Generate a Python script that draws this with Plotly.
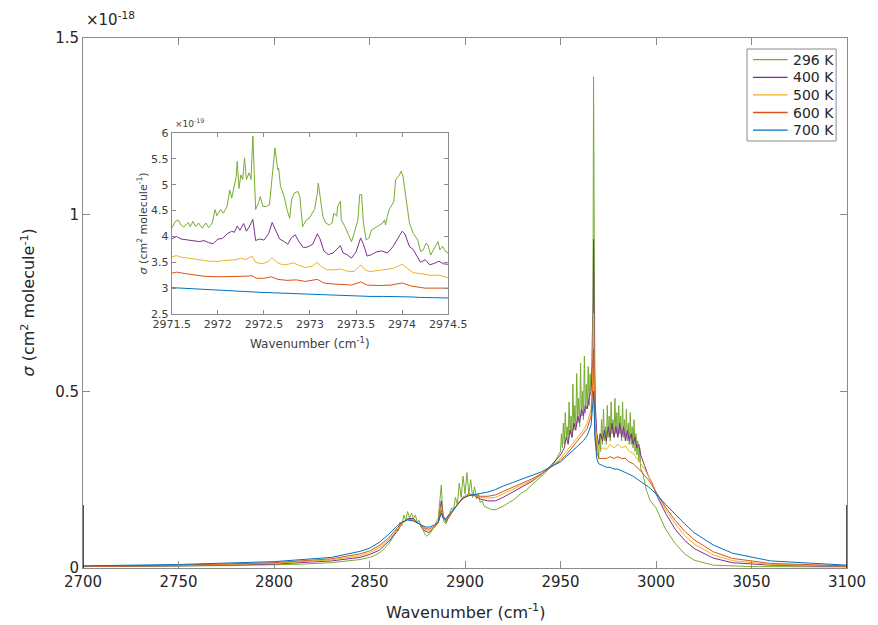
import plotly.graph_objects as go

# ---------------- main spectrum data (sigma in units of 1e-18 cm^2/molecule) ----------------
wn_296 = [2700, 2720, 2740, 2760, 2780, 2800, 2815, 2830, 2840, 2845, 2850, 2853, 2856, 2858, 2860, 2862, 2863,
          2864, 2865, 2866, 2867, 2868, 2869, 2870, 2871, 2872, 2873, 2874, 2875, 2876, 2877, 2878, 2879, 2880,
          2881, 2882, 2883, 2884, 2885, 2886, 2887, 2887.6, 2888.2, 2889, 2890, 2891, 2892, 2893, 2894, 2895,
          2896, 2897, 2898, 2899, 2900, 2901, 2902, 2903, 2904, 2905, 2906, 2907, 2908, 2909, 2910, 2912, 2914,
          2916, 2918, 2920, 2923, 2926, 2929, 2932, 2935, 2938, 2941, 2944, 2947, 2949,
          2950.0, 2950.5, 2951.0, 2951.5, 2952.0, 2952.5, 2953.0, 2953.5, 2954.0, 2954.5, 2955.0, 2955.5,
          2956.0, 2956.5, 2957.0, 2957.5, 2958.0, 2958.5, 2959.0, 2959.5, 2960.0, 2960.5, 2961.0, 2961.5,
          2962.0, 2962.5, 2963.0, 2963.5, 2964.0, 2964.5, 2965.0, 2965.5, 2966.0, 2966.5, 2967.0, 2967.3,
          2967.6, 2968.0, 2968.5, 2969.0, 2969.5, 2970.0,
          2970.5, 2971.0, 2971.5, 2972.0, 2972.5, 2973.0, 2973.5, 2974.0, 2974.5, 2975.0, 2975.5, 2976.0,
          2976.5, 2977.0, 2977.5, 2978.0, 2978.5, 2979.0, 2979.5, 2980.0, 2980.5, 2981.0, 2981.5, 2982.0,
          2982.5, 2983.0, 2983.5, 2984.0, 2984.5, 2985.0, 2985.5, 2986.0, 2986.5, 2987.0, 2987.5, 2988.0,
          2988.5, 2989.0, 2989.5, 2990.0, 2990.5, 2991.0, 2991.5, 2992.0, 2993.0, 2994.0, 2995.0, 2997.0,
          3000, 3005, 3010, 3015, 3020, 3030, 3050, 3100]
s_296 = [0.004, 0.004, 0.005, 0.006, 0.007, 0.009, 0.011, 0.015, 0.02, 0.024, 0.03, 0.036, 0.046, 0.056, 0.068, 0.085, 0.095,
         0.11, 0.105, 0.13, 0.12, 0.15, 0.135, 0.16, 0.14, 0.155, 0.14, 0.15, 0.13, 0.135, 0.115, 0.11, 0.095, 0.09,
         0.095, 0.10, 0.11, 0.115, 0.13, 0.14, 0.20, 0.235, 0.17, 0.13, 0.125, 0.14, 0.15, 0.17, 0.165, 0.20,
         0.18, 0.24, 0.20, 0.26, 0.21, 0.27, 0.21, 0.25, 0.20, 0.23, 0.195, 0.21, 0.185, 0.19, 0.175, 0.17, 0.165,
         0.165, 0.17, 0.175, 0.185, 0.195, 0.21, 0.22, 0.235, 0.25, 0.265, 0.28, 0.30, 0.32,
         0.33, 0.38, 0.34, 0.41, 0.35, 0.44, 0.37, 0.40, 0.36, 0.47, 0.38, 0.43,
         0.37, 0.52, 0.39, 0.46, 0.40, 0.55, 0.41, 0.48, 0.40, 0.58, 0.43, 0.50,
         0.42, 0.60, 0.44, 0.52, 0.45, 0.57, 0.46, 0.55, 0.50, 0.62, 0.75, 1.39,
         0.95, 0.55, 0.40, 0.33, 0.36, 0.31,
         0.38, 0.33, 0.42, 0.35, 0.45, 0.36, 0.40, 0.35, 0.46, 0.37, 0.43, 0.36,
         0.47, 0.38, 0.42, 0.37, 0.48, 0.38, 0.44, 0.37, 0.46, 0.38, 0.43, 0.36,
         0.47, 0.37, 0.42, 0.36, 0.45, 0.36, 0.41, 0.35, 0.44, 0.35, 0.40, 0.34,
         0.42, 0.33, 0.38, 0.32, 0.36, 0.30, 0.34, 0.28, 0.27, 0.24, 0.22, 0.19,
         0.17, 0.11, 0.07, 0.04, 0.022, 0.008, 0.004, 0.003]

wn_400 = [2700, 2750, 2800, 2830, 2845, 2850, 2855, 2860, 2864, 2867, 2870, 2873, 2876, 2879, 2881, 2884, 2886,
          2887.6, 2888.5, 2890, 2893, 2896, 2899, 2902, 2905, 2908, 2912, 2916, 2920, 2925, 2930, 2935, 2940,
          2945, 2950, 2952, 2953, 2954, 2955, 2956, 2957, 2958, 2959, 2960, 2961, 2962, 2963, 2964, 2965, 2966,
          2967, 2967.3, 2967.6, 2968, 2969, 2970, 2971, 2972, 2973, 2974, 2975, 2976, 2977, 2978, 2979, 2980,
          2981, 2982, 2983, 2984, 2985, 2986, 2987, 2988, 2989, 2990, 2991, 2992, 2994, 2996, 2998, 3000, 3005,
          3010, 3015, 3020, 3030, 3040, 3060, 3100]
s_400 = [0.004, 0.006, 0.011, 0.02, 0.03, 0.038, 0.05, 0.075, 0.10, 0.125, 0.14, 0.14, 0.125, 0.105, 0.10, 0.115, 0.13,
         0.19, 0.15, 0.13, 0.155, 0.18, 0.20, 0.21, 0.205, 0.195, 0.19, 0.19, 0.20, 0.215, 0.23, 0.245, 0.265,
         0.29, 0.32, 0.34, 0.37, 0.35, 0.39, 0.37, 0.41, 0.39, 0.43, 0.41, 0.45, 0.43, 0.46, 0.45, 0.48, 0.50,
         0.60, 0.93, 0.70, 0.48, 0.38, 0.35, 0.38, 0.36, 0.39, 0.36, 0.40, 0.37, 0.41, 0.37, 0.40, 0.37,
         0.41, 0.37, 0.40, 0.36, 0.39, 0.36, 0.38, 0.35, 0.37, 0.34, 0.35, 0.32, 0.29, 0.26, 0.24, 0.21, 0.155,
         0.11, 0.078, 0.055, 0.028, 0.015, 0.008, 0.004]

wn_hot = [2700, 2750, 2800, 2830, 2845, 2850, 2855, 2860, 2864, 2867, 2870, 2873, 2876, 2879, 2881, 2884, 2886,
          2887.6, 2888.5, 2890, 2893, 2896, 2899, 2902, 2905, 2908, 2912, 2916, 2920, 2925, 2930, 2935, 2940,
          2945, 2950, 2953, 2956, 2959, 2962, 2964, 2966, 2967, 2967.3, 2967.6, 2968, 2969, 2970, 2972, 2974,
          2976, 2978, 2980, 2982, 2984, 2986, 2988, 2990, 2992, 2994, 2996, 2998, 3000, 3005, 3010, 3015, 3020,
          3030, 3040, 3060, 3100]
s_500 = [0.005, 0.007, 0.013, 0.023, 0.035, 0.043, 0.057, 0.08, 0.105, 0.125, 0.138, 0.137, 0.125, 0.11, 0.105, 0.115, 0.128,
         0.175, 0.145, 0.135, 0.155, 0.18, 0.20, 0.208, 0.205, 0.20, 0.198, 0.20, 0.21, 0.222, 0.235, 0.248, 0.265,
         0.285, 0.31, 0.33, 0.35, 0.37, 0.39, 0.41, 0.45, 0.55, 0.72, 0.58, 0.42, 0.36, 0.33, 0.34, 0.335,
         0.35, 0.34, 0.35, 0.34, 0.345, 0.33, 0.325, 0.31, 0.295, 0.28, 0.26, 0.24, 0.215, 0.165, 0.125, 0.092, 0.068,
         0.037, 0.021, 0.010, 0.005]
s_600 = [0.005, 0.008, 0.015, 0.026, 0.04, 0.048, 0.063, 0.085, 0.11, 0.128, 0.137, 0.135, 0.125, 0.113, 0.11, 0.118, 0.128,
         0.165, 0.142, 0.137, 0.157, 0.18, 0.198, 0.205, 0.205, 0.203, 0.203, 0.207, 0.217, 0.228, 0.24, 0.252, 0.267,
         0.285, 0.305, 0.32, 0.34, 0.36, 0.38, 0.395, 0.43, 0.52, 0.62, 0.50, 0.38, 0.33, 0.31, 0.31, 0.31,
         0.315, 0.31, 0.315, 0.31, 0.31, 0.30, 0.295, 0.285, 0.275, 0.262, 0.25, 0.233, 0.215, 0.172, 0.135, 0.104, 0.08,
         0.046, 0.027, 0.013, 0.006]
s_700 = [0.006, 0.010, 0.018, 0.030, 0.047, 0.056, 0.072, 0.095, 0.117, 0.13, 0.136, 0.133, 0.125, 0.117, 0.115, 0.122, 0.13,
         0.155, 0.14, 0.14, 0.16, 0.18, 0.197, 0.205, 0.208, 0.21, 0.215, 0.222, 0.232, 0.242, 0.252, 0.262, 0.272,
         0.287, 0.30, 0.315, 0.33, 0.345, 0.36, 0.375, 0.405, 0.47, 0.50, 0.45, 0.37, 0.31, 0.295, 0.29, 0.285,
         0.285, 0.28, 0.28, 0.275, 0.27, 0.265, 0.26, 0.252, 0.245, 0.238, 0.23, 0.22, 0.21, 0.18, 0.152, 0.125, 0.10,
         0.065, 0.042, 0.020, 0.008]

# ---------------- inset data (sigma in units of 1e-19) ----------------
in_wn_296 = [2971.50, 2971.54, 2971.57, 2971.60, 2971.63, 2971.68, 2971.70, 2971.73, 2971.76, 2971.79, 2971.83,
             2971.87, 2971.90, 2971.94, 2971.97, 2971.99, 2972.03, 2972.06, 2972.10, 2972.13, 2972.15, 2972.18,
             2972.20, 2972.21, 2972.23, 2972.25, 2972.27, 2972.29, 2972.31, 2972.34, 2972.36, 2972.38, 2972.40,
             2972.41, 2972.44, 2972.46, 2972.49, 2972.53, 2972.56, 2972.60, 2972.62, 2972.65, 2972.66, 2972.68,
             2972.72, 2972.75, 2972.78, 2972.80, 2972.83, 2972.87, 2972.89, 2972.92, 2972.96, 2972.99, 2973.02,
             2973.05, 2973.08, 2973.09, 2973.11, 2973.14, 2973.17, 2973.21, 2973.24, 2973.26, 2973.29, 2973.30,
             2973.33, 2973.34, 2973.38, 2973.42, 2973.45, 2973.48, 2973.52, 2973.54, 2973.56, 2973.58, 2973.61,
             2973.64, 2973.67, 2973.73, 2973.76, 2973.79, 2973.81, 2973.82, 2973.84, 2973.86, 2973.89, 2973.91,
             2973.93, 2973.97, 2973.99, 2974.01, 2974.04, 2974.08, 2974.12, 2974.17, 2974.20, 2974.23, 2974.26,
             2974.28, 2974.31, 2974.34, 2974.36, 2974.39, 2974.41, 2974.44, 2974.47, 2974.50]
in_s_296 = [4.16, 4.29, 4.32, 4.22, 4.18, 4.27, 4.19, 4.29, 4.19, 4.26, 4.16,
            4.26, 4.17, 4.26, 4.52, 4.40, 4.52, 4.45, 4.58, 4.90, 4.74, 4.97,
            5.16, 5.45, 4.93, 5.19, 5.10, 5.52, 5.10, 5.23, 5.10, 5.94, 5.16,
            4.52, 4.64, 4.77, 4.58, 4.58, 4.61, 5.29, 5.71, 5.29, 5.32, 4.97,
            4.77, 4.52, 4.35, 4.71, 4.84, 4.87, 4.77, 4.19, 4.32, 4.35, 4.45,
            4.52, 4.84, 5.03, 4.77, 4.39, 4.26, 4.22, 4.26, 4.45, 4.39, 4.58,
            4.68, 4.32, 4.19, 4.03, 3.90, 4.06, 4.32, 4.81, 4.81, 4.26, 3.93,
            3.97, 4.13, 4.19, 4.22, 4.26, 4.32, 4.22, 4.39, 4.52, 4.61, 4.68,
            5.10, 5.19, 5.26, 5.16, 4.77, 4.26, 4.06, 3.93, 3.71, 3.74, 3.87,
            3.84, 3.64, 3.74, 3.81, 3.90, 3.74, 3.81, 3.71, 3.68]

in_wn_400 = [2971.50, 2971.55, 2971.60, 2971.70, 2971.80, 2971.85, 2971.90, 2971.95, 2972.00, 2972.05, 2972.10,
             2972.15, 2972.18, 2972.21, 2972.24, 2972.28, 2972.31, 2972.34, 2972.38, 2972.41, 2972.45, 2972.50,
             2972.55, 2972.59, 2972.63, 2972.67, 2972.72, 2972.76, 2972.80, 2972.84, 2972.88, 2972.93, 2972.98,
             2973.03, 2973.08, 2973.11, 2973.15, 2973.20, 2973.25, 2973.29, 2973.33, 2973.36, 2973.40, 2973.45,
             2973.50, 2973.55, 2973.58, 2973.62, 2973.67, 2973.72, 2973.78, 2973.84, 2973.90, 2973.95, 2974.00,
             2974.03, 2974.08, 2974.12, 2974.17, 2974.20, 2974.25, 2974.30, 2974.35, 2974.40, 2974.45, 2974.50]
in_s_400 = [3.95, 4.00, 3.95, 3.93, 3.90, 3.92, 3.88, 3.86, 3.95, 3.96, 4.05,
            4.10, 4.08, 4.20, 4.12, 4.25, 4.10, 4.18, 4.33, 3.92, 3.95, 3.93,
            4.05, 4.27, 4.10, 3.95, 3.90, 3.85, 3.98, 4.03, 3.90, 3.78, 3.80,
            3.85, 4.05, 3.95, 3.72, 3.65, 3.68, 3.75, 3.82, 3.68, 3.65, 3.58,
            3.70, 3.97, 3.85, 3.62, 3.65, 3.70, 3.72, 3.68, 3.80, 3.95, 4.10,
            4.05, 3.80, 3.75, 3.60, 3.50, 3.55, 3.45, 3.48, 3.52, 3.47, 3.46]

in_wn_500 = [2971.50, 2971.55, 2971.60, 2971.70, 2971.80, 2971.90, 2972.00, 2972.10, 2972.20, 2972.25, 2972.30,
             2972.37, 2972.41, 2972.45, 2972.50, 2972.55, 2972.59, 2972.64, 2972.70, 2972.76, 2972.82, 2972.88,
             2972.95, 2973.02, 2973.08, 2973.12, 2973.18, 2973.25, 2973.33, 2973.40, 2973.48, 2973.55, 2973.60,
             2973.65, 2973.72, 2973.80, 2973.90, 2974.00, 2974.05, 2974.12, 2974.20, 2974.30, 2974.40, 2974.50]
in_s_500 = [3.60, 3.63, 3.60, 3.58, 3.55, 3.52, 3.52, 3.54, 3.55, 3.58, 3.55,
            3.62, 3.50, 3.48, 3.48, 3.52, 3.59, 3.50, 3.45, 3.46, 3.49, 3.44,
            3.40, 3.42, 3.50, 3.42, 3.36, 3.35, 3.37, 3.33, 3.32, 3.45, 3.35,
            3.32, 3.34, 3.35, 3.38, 3.46, 3.40, 3.30, 3.28, 3.25, 3.25, 3.20]

in_wn_600 = [2971.50, 2971.55, 2971.65, 2971.75, 2971.85, 2972.00, 2972.15, 2972.30, 2972.37, 2972.42, 2972.50,
             2972.58, 2972.65, 2972.75, 2972.85, 2972.95, 2973.08, 2973.15, 2973.25, 2973.35, 2973.45, 2973.55,
             2973.62, 2973.75, 2973.88, 2974.00, 2974.10, 2974.25, 2974.40, 2974.50]
in_s_600 = [3.29, 3.31, 3.28, 3.25, 3.23, 3.22, 3.22, 3.23, 3.24, 3.19, 3.19,
            3.22, 3.17, 3.15, 3.16, 3.13, 3.17, 3.10, 3.08, 3.07, 3.06, 3.12,
            3.06, 3.05, 3.06, 3.10, 3.04, 3.00, 3.00, 3.00]

in_wn_700 = [2971.50, 2971.60, 2971.70, 2971.80, 2971.90, 2972.00, 2972.15, 2972.30, 2972.45, 2972.60, 2972.75,
             2972.90, 2973.05, 2973.20, 2973.35, 2973.50, 2973.65, 2973.80, 2973.95, 2974.10, 2974.20, 2974.35, 2974.50]
in_s_700 = [3.01, 3.00, 2.98, 2.97, 2.96, 2.95, 2.94, 2.93, 2.92, 2.91, 2.90,
            2.89, 2.87, 2.86, 2.86, 2.85, 2.84, 2.84, 2.84, 2.83, 2.82, 2.81, 2.81]

labels = ["296 K", "400 K", "500 K", "600 K", "700 K"]
colors = ["#77AC30", "#7E2F8E", "#EDB120", "#D95319", "#0072BD"]

main_xticks = [2700, 2750, 2800, 2850, 2900, 2950, 3000, 3050, 3100]
main_yticks = [0, 0.5, 1, 1.5]
main_yticktext = ["0", "0.5", "1", "1.5"]
inset_xticks = [2971.5, 2972, 2972.5, 2973, 2973.5, 2974, 2974.5]
inset_xticktext = ["2971.5", "2972", "2972.5", "2973", "2973.5", "2974", "2974.5"]
inset_yticks = [2.5, 3, 3.5, 4, 4.5, 5, 5.5, 6]
inset_yticktext = ["2.5", "3", "3.5", "4", "4.5", "5", "5.5", "6"]

main_series = [(wn_296, s_296), (wn_400, s_400), (wn_hot, s_500), (wn_hot, s_600), (wn_hot, s_700)]
inset_series = [(in_wn_296, in_s_296), (in_wn_400, in_s_400), (in_wn_500, in_s_500),
                (in_wn_600, in_s_600), (in_wn_700, in_s_700)]

FONT = "DejaVu Sans"
AX = "#8a8a8a"
TXT = "#262626"
TXT2 = "#404040"

W, H = 878, 625
L, R, T, B = 83, 23, 38, 57
PW, PH = W - L - R, H - T - B


def px(X):
    return (X - L) / PW


def py(Y):
    return (H - B - Y) / PH


fig = go.Figure()
for (x, y), lab, col in zip(main_series, labels, colors):
    fig.add_trace(go.Scatter(x=x, y=y, mode="lines", name=lab, showlegend=False,
                             line=dict(color=col, width=1), xaxis="x", yaxis="y"))
for (x, y), lab, col in zip(inset_series, labels, colors):
    fig.add_trace(go.Scatter(x=x, y=y, mode="lines", name=lab, showlegend=False,
                             line=dict(color=col, width=1), xaxis="x2", yaxis="y2"))

axis_common = dict(showline=True, linecolor=AX, linewidth=1, mirror="ticks", ticks="inside",
                   tickcolor=AX, showgrid=False, zeroline=False)

fig.update_layout(
    width=W, height=H,
    margin=dict(l=L, r=R, t=T, b=B),
    plot_bgcolor="white", paper_bgcolor="white",
    font=dict(family=FONT, color=TXT),
    showlegend=False,
    xaxis=dict(range=[2700, 3100], tickvals=main_xticks, ticklen=7,
               tickfont=dict(size=15, color=TXT), domain=[0, 1], **axis_common),
    yaxis=dict(range=[0, 1.5], tickvals=main_yticks, ticktext=main_yticktext, ticklen=7,
               tickfont=dict(size=15, color=TXT), domain=[0, 1], **axis_common),
    xaxis2=dict(range=[2971.5, 2974.5], tickvals=inset_xticks, ticktext=inset_xticktext, ticklen=4,
                tickfont=dict(size=11, color=TXT2), domain=[px(172.7), px(452)], anchor="y2", **axis_common),
    yaxis2=dict(range=[2.5, 6], tickvals=inset_yticks, ticktext=inset_yticktext, ticklen=4,
                tickfont=dict(size=11, color=TXT2), domain=[py(314), py(133)], anchor="x2", **axis_common),
)

# dark segments on the axis edges near the bottom (as in reference)
for xe in (2700, 3100):
    fig.add_shape(type="line", xref="x", yref="y", x0=xe, x1=xe, y0=0, y1=0.178,
                  line=dict(color="#1a1a1a", width=1.5))

# legend box (MATLAB style)
fig.add_shape(type="rect", xref="paper", yref="paper", x0=px(754), x1=px(844), y0=py(141), y1=py(49),
              line=dict(color=AX, width=1), fillcolor="white", layer="above")
for i, (lab, col) in enumerate(zip(labels, colors)):
    yy = 59.7 + 17.6 * i
    fig.add_shape(type="line", xref="paper", yref="paper", x0=px(760), x1=px(795), y0=py(yy), y1=py(yy),
                  line=dict(color=col, width=1.3), layer="above")
    fig.add_annotation(text=lab, xref="paper", yref="paper", x=px(798), y=py(yy), xanchor="left",
                       yanchor="middle", showarrow=False, font=dict(size=14, color=TXT))

fig.add_annotation(text="×10<sup>-18</sup>", xref="paper", yref="paper", x=px(84), y=py(31),
                   xanchor="left", yanchor="bottom", showarrow=False, font=dict(size=15, color=TXT))
fig.add_annotation(text="×10<sup>-19</sup>", xref="paper", yref="paper", x=px(174), y=py(131),
                   xanchor="left", yanchor="bottom", showarrow=False, font=dict(size=9, color=TXT2))
fig.add_annotation(text="Wavenumber (cm<sup>-1</sup>)", xref="paper", yref="paper", x=0.5, y=py(611),
                   xanchor="center", yanchor="middle", showarrow=False, font=dict(size=16, color=TXT))
fig.add_annotation(text="<i>σ</i> (cm<sup>2</sup> molecule<sup>-1</sup>)", xref="paper", yref="paper",
                   x=px(27), y=0.5, xanchor="center", yanchor="middle", textangle=-90, showarrow=False,
                   font=dict(size=16, color=TXT))
fig.add_annotation(text="Wavenumber (cm<sup>-1</sup>)", xref="paper", yref="paper", x=px(312), y=py(343),
                   xanchor="center", yanchor="middle", showarrow=False, font=dict(size=12, color=TXT2))
fig.add_annotation(text="<i>σ</i> (cm<sup>2</sup> molecule<sup>-1</sup>)", xref="paper", yref="paper",
                   x=px(143), y=py(223), xanchor="center", yanchor="middle", textangle=-90, showarrow=False,
                   font=dict(size=11, color=TXT2))

fig.write_html("out.html", config={"displayModeBar": False},
               post_script="document.body.style.margin='0px';document.body.style.overflow='hidden';")
